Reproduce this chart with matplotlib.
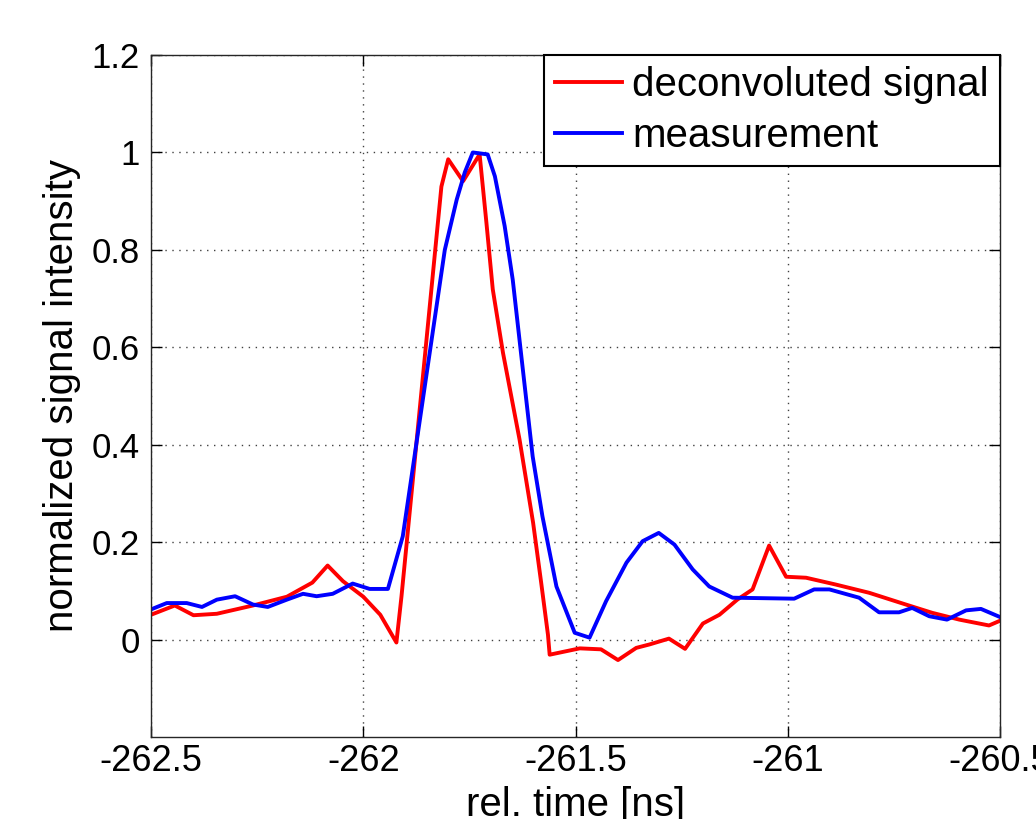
import matplotlib
matplotlib.use("Agg")
import matplotlib.pyplot as plt

# deconvoluted signal (red)
t_deconv = [-262.5, -262.444, -262.40, -262.345, -262.26, -262.18, -262.12, -262.084,
            -262.048, -262.0, -261.96, -261.922, -261.91, -261.816, -261.80, -261.765,
            -261.726, -261.71, -261.695, -261.671, -261.632, -261.60, -261.581, -261.565,
            -261.561, -261.49, -261.44, -261.40, -261.357, -261.326, -261.28, -261.242,
            -261.20, -261.161, -261.119, -261.083, -261.044, -261.004, -260.957, -260.887,
            -260.808, -260.722, -260.66, -260.596, -260.526, -260.502]
s_deconv = [0.051, 0.07, 0.05, 0.053, 0.07, 0.088, 0.117, 0.152,
            0.12, 0.088, 0.051, -0.006, 0.089, 0.93, 0.986, 0.941,
            0.996, 0.856, 0.719, 0.589, 0.411, 0.24, 0.117, 0.01,
            -0.031, -0.018, -0.02, -0.042, -0.017, -0.01, 0.002, -0.019,
            0.033, 0.051, 0.082, 0.103, 0.193, 0.129, 0.127, 0.113,
            0.096, 0.072, 0.055, 0.041, 0.029, 0.038]

# measurement (blue)
t_meas = [-262.5, -262.463, -262.416, -262.38, -262.345, -262.302, -262.26, -262.225,
          -262.18, -262.142, -262.11, -262.072, -262.025, -261.985, -261.942, -261.907,
          -261.808, -261.78, -261.761, -261.742, -261.707, -261.69, -261.667, -261.648,
          -261.625, -261.601, -261.578, -261.545, -261.502, -261.467, -261.428, -261.38,
          -261.342, -261.304, -261.267, -261.224, -261.185, -261.13, -260.985, -260.938,
          -260.902, -260.832, -260.785, -260.738, -260.707, -260.667, -260.625, -260.58,
          -260.545, -260.502]
s_meas = [0.062, 0.075, 0.075, 0.067, 0.082, 0.089, 0.072, 0.067,
          0.082, 0.094, 0.089, 0.094, 0.115, 0.104, 0.104, 0.212,
          0.80, 0.903, 0.959, 1.0, 0.996, 0.951, 0.849, 0.739,
          0.561, 0.376, 0.253, 0.109, 0.014, 0.004, 0.079, 0.158,
          0.202, 0.219, 0.195, 0.144, 0.109, 0.086, 0.084, 0.103,
          0.103, 0.086, 0.056, 0.056, 0.065, 0.048, 0.041, 0.06,
          0.063, 0.047]

x_ticks = [-262.5, -262, -261.5, -261, -260.5]
x_tick_labels = ['-262.5', '-262', '-261.5', '-261', '-260.5']
y_ticks = [0, 0.2, 0.4, 0.6, 0.8, 1, 1.2]
y_tick_labels = ['0', '0.2', '0.4', '0.6', '0.8', '1', '1.2']

plt.rcParams['font.family'] = ['Liberation Sans', 'DejaVu Sans']
plt.rcParams['font.size'] = 29

fig = plt.figure(figsize=(10.36, 8.19), dpi=100)
ax = fig.add_axes([0.1458, 0.1001, 0.8195, 0.8327])

ax.plot(t_deconv, s_deconv, color='red', linewidth=2.8, label='deconvoluted signal')
ax.plot(t_meas, s_meas, color='blue', linewidth=2.8, label='measurement')

ax.set_xlim(-262.5, -260.5)
ax.set_ylim(-0.2, 1.2)
ax.set_xticks(x_ticks)
ax.set_xticklabels(x_tick_labels)
ax.set_yticks(y_ticks)
ax.set_yticklabels(y_tick_labels)

ax.grid(True, color='0.25', linestyle=(0, (1, 4)), linewidth=1)
ax.tick_params(direction='in', length=8, width=1, top=True, right=True)
ax.tick_params(axis='x', labelsize=26, pad=5)
ax.tick_params(axis='y', labelsize=25, pad=8)
for sp in ax.spines.values():
    sp.set_linewidth(1)
    sp.set_color('0.15')

ax.set_xlabel('rel. time [ns]', labelpad=5)
ax.set_ylabel('normalized signal intensity', labelpad=8)

leg = ax.legend(loc='upper right', borderaxespad=0, fancybox=False, framealpha=1,
                edgecolor='black', handlelength=1.66, handletextpad=0.25,
                borderpad=0.28, labelspacing=0.32)
leg.get_frame().set_linewidth(1.5)

fig.savefig('out.png', dpi=100)
